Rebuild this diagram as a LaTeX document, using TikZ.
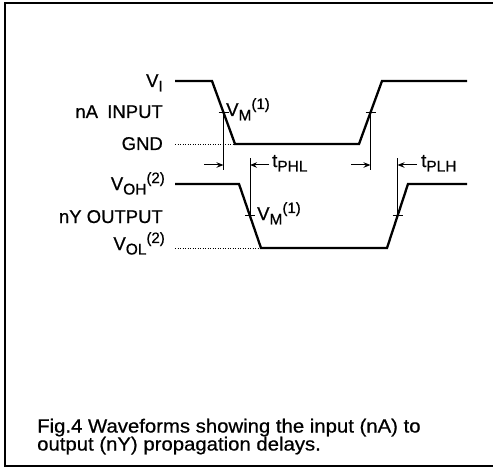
\documentclass[tikz,border=0pt]{standalone}
\usepackage{fontspec}
\setmainfont[FakeBold=0.7]{Liberation Sans}
\newfontfamily\capfont[FakeStretch=1.07,FakeBold=0.7]{Liberation Sans}
\usetikzlibrary{arrows.meta,calc}
\newcommand\lo[1]{\raisebox{-4.5pt}{\fontsize{15.5}{16}\selectfont #1}}
\newcommand\hi[1]{\raisebox{7pt}{\fontsize{15}{16}\selectfont #1}}
\begin{document}
\begin{tikzpicture}[x=1pt,y=-1pt,
  wave/.style={line width=2.3pt, line join=miter},
  meas/.style={line width=1pt},
  lvl/.style={line width=0.9pt, dash pattern=on 1pt off 1.5pt},
  dimarrow/.style={line width=1pt, -{Stealth[length=7pt,width=5.5pt]}},
  lbl/.style={font=\fontsize{18.5}{20}\selectfont, inner sep=0pt},
  caption/.style={font=\capfont\fontsize{19}{19}\selectfont, inner sep=0pt, anchor=base west},
  framestyle/.style={line width=2.5pt}]
\useasboundingbox (0,0) rectangle (493,468);
\draw[framestyle] (493,3) -- (5,3) -- (5,466) -- (493,466);

% input waveform
\coordinate (i0) at (175,81);
\coordinate (i1) at (212,81);
\coordinate (i2) at (235,144);
\coordinate (i3) at (359,144);
\coordinate (i4) at (382,81);
\coordinate (i5) at (467,81);
\coordinate (g0) at (175,144);
\draw[wave] (i0) -- (i1) -- (i2) -- (i3) -- (i4) -- (i5);
\draw[lvl] (g0) -- (i2);

% output waveform
\coordinate (o0) at (175,184);
\coordinate (o1) at (239,184);
\coordinate (o2) at (261,248);
\coordinate (o3) at (387,248);
\coordinate (o4) at (408,184);
\coordinate (o5) at (467,184);
\coordinate (l0) at (175,248);
\draw[wave] (o0) -- (o1) -- (o2) -- (o3) -- (o4) -- (o5);
\draw[lvl] (l0) -- (o2);

% V_M points
\coordinate (m1) at ($(i1)!0.5!(i2)$);
\coordinate (m2) at ($(i3)!0.5!(i4)$);
\coordinate (m3) at ($(o1)!0.5!(o2)$);
\coordinate (m4) at ($(o3)!0.5!(o4)$);
\foreach \m in {m1,m2,m3,m4}{
  \draw[meas] ([xshift=-5pt]\m) -- ([xshift=5pt]\m);
}
% measurement verticals
\coordinate (v1) at (223.5,170);
\coordinate (v2) at (370.5,170);
\coordinate (v3) at (250,158);
\coordinate (v4) at (397.5,158);
\draw[meas] (m1) -- (v1);
\draw[meas] (m2) -- (v2);
\draw[meas] (m3) -- (v3);
\draw[meas] (m4) -- (v4);

% arrows
\coordinate (a1s) at (204,165);  \coordinate (a1e) at (223.5,165);
\coordinate (a2s) at (269,165);  \coordinate (a2e) at (250,165);
\coordinate (a3s) at (351,165);  \coordinate (a3e) at (370.5,165);
\coordinate (a4s) at (417,165);  \coordinate (a4e) at (397.5,165);
\draw[dimarrow] (a1s) -- (a1e);
\draw[dimarrow] (a2s) -- (a2e);
\draw[dimarrow] (a3s) -- (a3e);
\draw[dimarrow] (a4s) -- (a4e);

% labels
\node[lbl, anchor=base east] (vi) at (163,87) {V\lo{I}};
\node[lbl, anchor=base east] (nain) at (163,118) {nA\hspace{0.5em}INPUT};
\node[lbl, anchor=base east] (gnd) at (163,150) {GND};
\node[lbl, anchor=base east] (voh) at (165,190) {V\lo{OH}\hi{(2)}};
\node[lbl, anchor=base east] (nyout) at (163,223) {nY OUTPUT};
\node[lbl, anchor=base east] (vol) at (165,250) {V\lo{OL}\hi{(2)}};
\node[lbl, anchor=base west] (vm1) at (226,116) {V\lo{M}\hi{(1)}};
\node[lbl, anchor=base west] (vm2) at (257,220) {V\lo{M}\hi{(1)}};
\node[lbl, anchor=base west] (tphl) at (272,167) {t\lo{PHL}};
\node[lbl, anchor=base west] (tplh) at (421,167) {t\lo{PLH}};

% caption
\node[caption] (cap1) at (37,432.5) {Fig.4 Waveforms showing the input (nA) to};
\node[caption] (cap2) at (37,450.5) {output (nY) propagation delays.};
\end{tikzpicture}
\end{document}
